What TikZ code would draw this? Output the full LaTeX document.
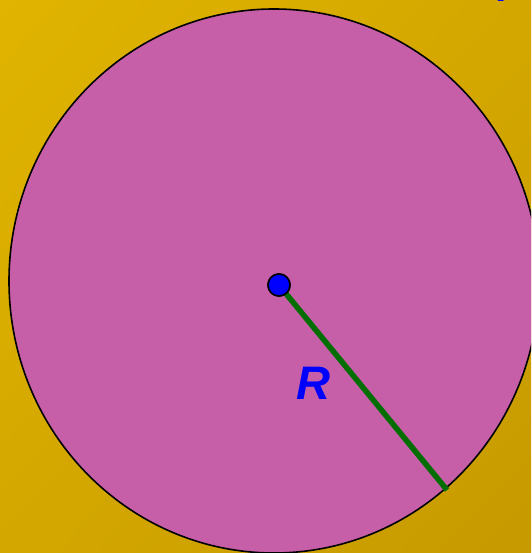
\documentclass[tikz,border=0pt]{standalone}
\usepackage{fontspec}
\setmainfont{Liberation Sans}
\usetikzlibrary{shadings}
\begin{document}
\begin{tikzpicture}[x=1pt,y=-1pt,
  disc/.style={draw=black,line width=1.6pt,fill=discpink},
  radius line/.style={draw=radgreen,line width=5.5pt},
  centre dot/.style={circle,draw=black,line width=1.6pt,fill=blue,inner sep=0pt,minimum size=22pt},
  label R/.style={text=blue,font=\fontsize{47}{47}\selectfont\bfseries\itshape}]
\definecolor{discpink}{RGB}{199,95,168}
\definecolor{radgreen}{RGB}{0,110,0}
\definecolor{bgA}{RGB}{224,180,0}
\definecolor{bgB}{RGB}{212,167,0}
\definecolor{bgC}{RGB}{198,154,0}
\useasboundingbox (0,0) rectangle (531,553);
\begin{scope}
\clip (0,0) rectangle (531,553);
\shade[upper left=bgA,upper right=bgB,lower left=bgB,lower right=bgC] (0,0) rectangle (531,553);
\draw[disc] (274,281) ellipse [x radius=265,y radius=272];
\coordinate (rim) at (447,490);
\node[centre dot] (c) at (279,285) {};
\draw[radius line] (c.center) ++(4,5) -- (rim);
\node[centre dot] at (279,285) {};
\node[label R] (R) at (313,383) {R};
\node[text=blue,font=\fontsize{40}{40}\selectfont\bfseries\itshape,anchor=base west] (top) at (494,2) {P};
\end{scope}
\end{tikzpicture}
\end{document}
